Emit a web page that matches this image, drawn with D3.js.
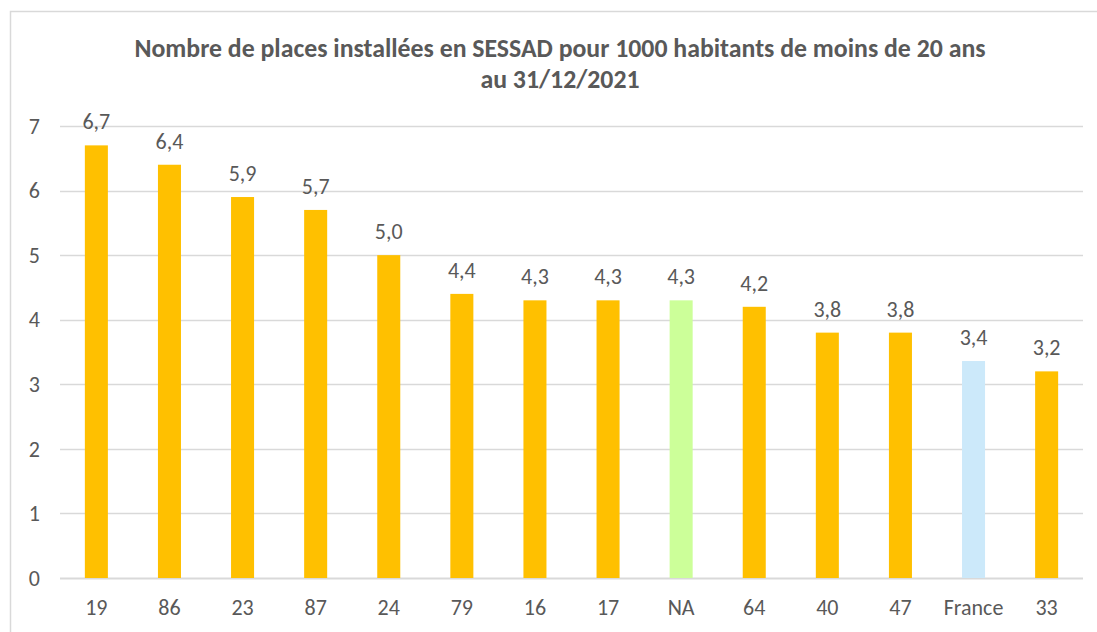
<!DOCTYPE html>
<html>
<head>
<meta charset="utf-8">
<script src="https://cdn.jsdelivr.net/npm/d3@7"></script>
<style>
  body { margin: 0; background: #fff; }
  text { font-family: Carlito, "Liberation Sans Narrow", "Liberation Sans", sans-serif; fill: #595959; }
</style>
</head>
<body>
<div id="chart"></div>
<script>
var categories = ["19", "86", "23", "87", "24", "79", "16", "17", "NA", "64", "40", "47", "France", "33"];
var values = [6.7, 6.4, 5.9, 5.7, 5.0, 4.4, 4.3, 4.3, 4.3, 4.2, 3.8, 3.8, 3.36, 3.2];
var yTicks = [0, 1, 2, 3, 4, 5, 6, 7];
var titleLines = ["Nombre de places installées en SESSAD pour 1000 habitants  de moins de 20 ans", "au 31/12/2021"];

var width = 1097, height = 632;
var margin = {top: 126, right: 14, bottom: 54, left: 60};

var svg = d3.select("#chart").append("svg")
  .attr("width", width)
  .attr("height", height);

// chart frame
svg.append("rect")
  .attr("x", 10.5).attr("y", 11.5)
  .attr("width", width).attr("height", height)
  .attr("fill", "none")
  .attr("stroke", "#d9d9d9")
  .attr("stroke-width", 1.5);

var x = d3.scaleBand()
  .domain(categories)
  .range([margin.left, width - margin.right])
  .paddingInner(0.685)
  .paddingOuter(0.34);

var y = d3.scaleLinear()
  .domain([0, 7])
  .range([height - margin.bottom, margin.top]);

function barColor(c) {
  if (c == "NA") return "#ccff99";
  if (c == "France") return "#cce9fa";
  return "#ffc000";
}

// gridlines
svg.append("g").selectAll("line")
  .data(yTicks)
  .enter().append("line")
  .attr("x1", margin.left).attr("x2", width - margin.right)
  .attr("y1", function(d) { return Math.round(y(d)) + 0.5; })
  .attr("y2", function(d) { return Math.round(y(d)) + 0.5; })
  .attr("stroke", "#d9d9d9")
  .attr("stroke-width", function(d) { return d == 0 ? 2 : 1.5; });

// y labels
svg.append("g").selectAll("text")
  .data(yTicks)
  .enter().append("text")
  .attr("x", 40)
  .attr("y", function(d) { return y(d); })
  .attr("dy", "0.35em")
  .attr("text-anchor", "end")
  .style("font-size", "22px")
  .text(function(d) { return d; });

var data = categories.map(function(c, i) { return {cat: c, value: values[i]}; });

svg.append("g").selectAll("rect")
  .data(data)
  .enter().append("rect")
  .attr("x", function(d) { return x(d.cat); })
  .attr("width", x.bandwidth())
  .attr("y", function(d) { return y(d.value); })
  .attr("height", function(d) { return y(0) - y(d.value); })
  .attr("fill", function(d) { return barColor(d.cat); });

// value labels
var fmt = d3.format(".1f");
svg.append("g").selectAll("text")
  .data(data)
  .enter().append("text")
  .attr("x", function(d) { return x(d.cat) + x.bandwidth() / 2; })
  .attr("y", function(d) { return y(d.value) - 16; })
  .attr("text-anchor", "middle")
  .style("font-size", "22px")
  .text(function(d) { return fmt(d.value).replace(".", ","); });

// x labels
svg.append("g").selectAll("text")
  .data(categories)
  .enter().append("text")
  .attr("x", function(d) { return x(d) + x.bandwidth() / 2; })
  .attr("y", 615)
  .attr("text-anchor", "middle")
  .style("font-size", "22px")
  .text(function(d) { return d; });

// title
svg.append("g").selectAll("text")
  .data(titleLines)
  .enter().append("text")
  .attr("x", 560)
  .attr("y", function(d, i) { return 57 + i * 31; })
  .attr("text-anchor", "middle")
  .style("font-size", "25.8px")
  .style("font-weight", "bold")
  .text(function(d) { return d; });
</script>
</body>
</html>
